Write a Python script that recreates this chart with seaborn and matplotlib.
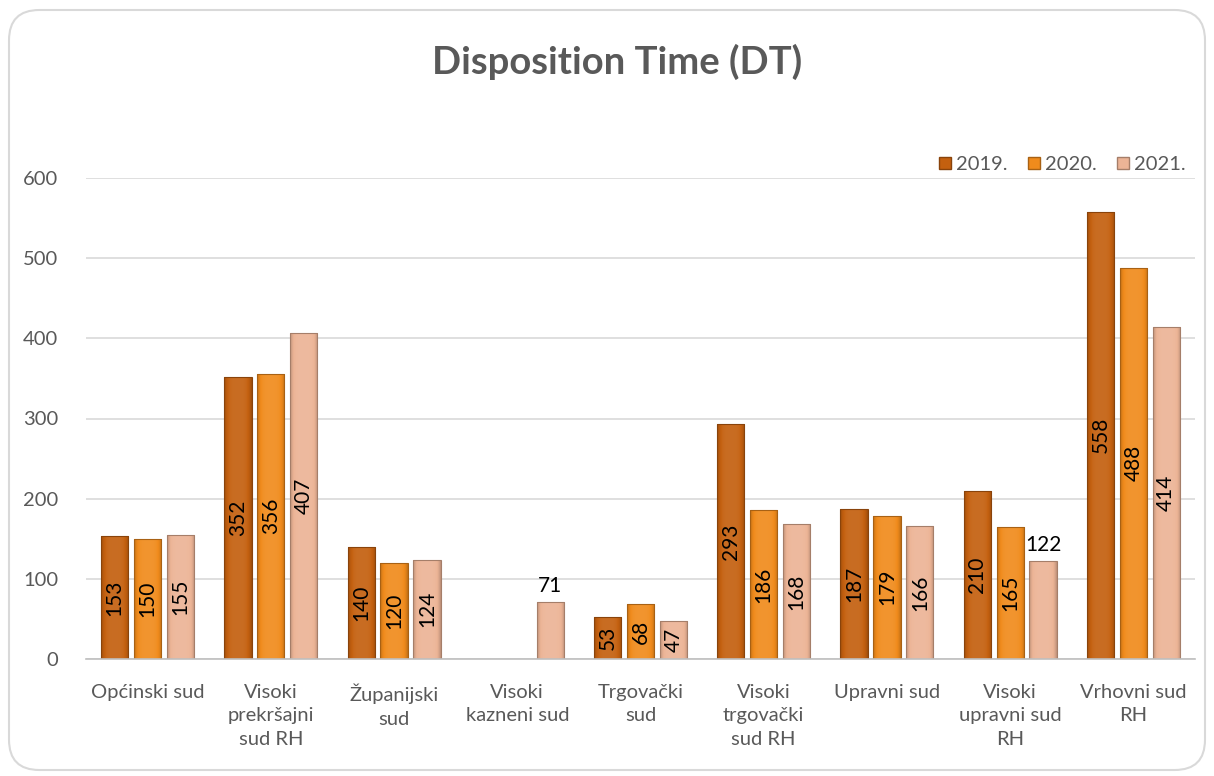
import numpy as np
import pandas as pd
import seaborn as sns
import matplotlib.pyplot as plt
from matplotlib.patches import Patch, FancyBboxPatch
from matplotlib.colors import to_rgb

categories = ["Općinski sud", "Visoki\nprekršajni\nsud RH", "Županijski\nsud",
              "Visoki\nkazneni sud", "Trgovački\nsud", "Visoki\ntrgovački\nsud RH",
              "Upravni sud", "Visoki\nupravni sud\nRH", "Vrhovni sud\nRH"]
years = ["2019.", "2020.", "2021."]
dt_2019 = [153, 352, 140, np.nan, 53, 293, 187, 210, 558]
dt_2020 = [150, 356, 120, np.nan, 68, 186, 179, 165, 488]
dt_2021 = [155, 407, 124, 71, 47, 168, 166, 122, 414]
y_ticks = [0, 100, 200, 300, 400, 500, 600]

# labels that Excel put above the bar instead of inside
outside_labels = [(3, "2021."), (7, "2021.")]

colors = {"2019.": "#C4600F", "2020.": "#F08B1C", "2021.": "#ECB496"}

df = pd.DataFrame({
    "category": categories * 3,
    "year": [y for y in years for _ in categories],
    "value": dt_2019 + dt_2020 + dt_2021,
}).dropna()

sns.set_style("white")
plt.rcParams["font.family"] = ["Lato", "DejaVu Sans"]

fig = plt.figure(figsize=(12.14, 7.76), dpi=100)
ax = fig.add_axes([86 / 1214, 1 - 659 / 776, (1195 - 86) / 1214, (659 - 178) / 776])

sns.barplot(data=df, x="category", y="value", hue="year", order=categories,
            hue_order=years, palette=colors, width=0.8, gap=0.17,
            legend=False, ax=ax)


def shade(c, f):
    r = np.array(to_rgb(c))
    if f < 1:
        return r * f
    return r + (1 - r) * (f - 1)


for year, cont in zip(years, ax.containers):
    base = colors[year]
    for bar in cont:
        h = bar.get_height()
        if not np.isfinite(h) or h == 0:
            continue
        x0 = bar.get_x()
        w = bar.get_width()
        # horizontal bevel gradient
        t = np.linspace(-1, 1, 64)
        prof = 1.08 - 0.28 * t ** 4
        grad = np.array([shade(base, p) for p in prof]).clip(0, 1)[None, :, :]
        im = ax.imshow(grad, extent=[x0, x0 + w, 0, h], aspect="auto",
                       zorder=bar.get_zorder(), interpolation="bilinear")
        im.set_clip_path(bar)
        bar.set_edgecolor(shade(base, 0.7))
        bar.set_linewidth(0.8)
        bar.set_facecolor("none")
        bar.set_zorder(bar.get_zorder() + 0.1)

        idx = int(round(x0 + w / 2))
        cx = x0 + w / 2
        if (idx, year) in outside_labels:
            ax.text(cx, h + 8, f"{h:.0f}", ha="center", va="bottom",
                    fontsize=15, color="black")
        else:
            ax.text(cx, h / 2, f"{h:.0f}", ha="center", va="center",
                    rotation=90, fontsize=15, color="black", zorder=5)

ax.set_xlim(-0.5, len(categories) - 0.5)
ax.set_ylim(0, 600)
ax.set_yticks(y_ticks)
ax.yaxis.grid(True, color="#D9D9D9", linewidth=1.2)
ax.set_axisbelow(True)
for s in ["top", "right", "left"]:
    ax.spines[s].set_visible(False)
ax.spines["bottom"].set_color("#BFBFBF")
ax.spines["bottom"].set_linewidth(1.2)
ax.tick_params(axis="both", length=0, labelsize=14.5, labelcolor="#595959")
ax.tick_params(axis="y", pad=20)
ax.tick_params(axis="x", pad=18)
ax.set_xlabel("")
ax.set_ylabel("")
for lbl in ax.get_xticklabels():
    lbl.set_linespacing(1.45)

handles = [Patch(facecolor=colors[y], edgecolor=shade(colors[y], 0.7), label=y) for y in years]
fig.legend(handles=handles, loc="upper right", bbox_to_anchor=(1204 / 1214, 1 - 138 / 776),
           ncol=3, frameon=False, fontsize=14.5, handlelength=0.6, handleheight=0.6,
           handletextpad=0.25, columnspacing=1.0, labelcolor="#595959")

fig.text(0.508, 1 - 62 / 776, "Disposition Time (DT)", ha="center", va="center",
         fontsize=27.5, fontweight="bold", color="#595959")

fig.patches.append(FancyBboxPatch((9 / 1214, 6 / 776), 1196 / 1214, 760 / 776,
                                  boxstyle="round,pad=0,rounding_size=0.025",
                                  mutation_aspect=1214 / 776,
                                  transform=fig.transFigure, facecolor="none",
                                  edgecolor="#D9D9D9", linewidth=1.5))

fig.savefig("out.png", dpi=100)
